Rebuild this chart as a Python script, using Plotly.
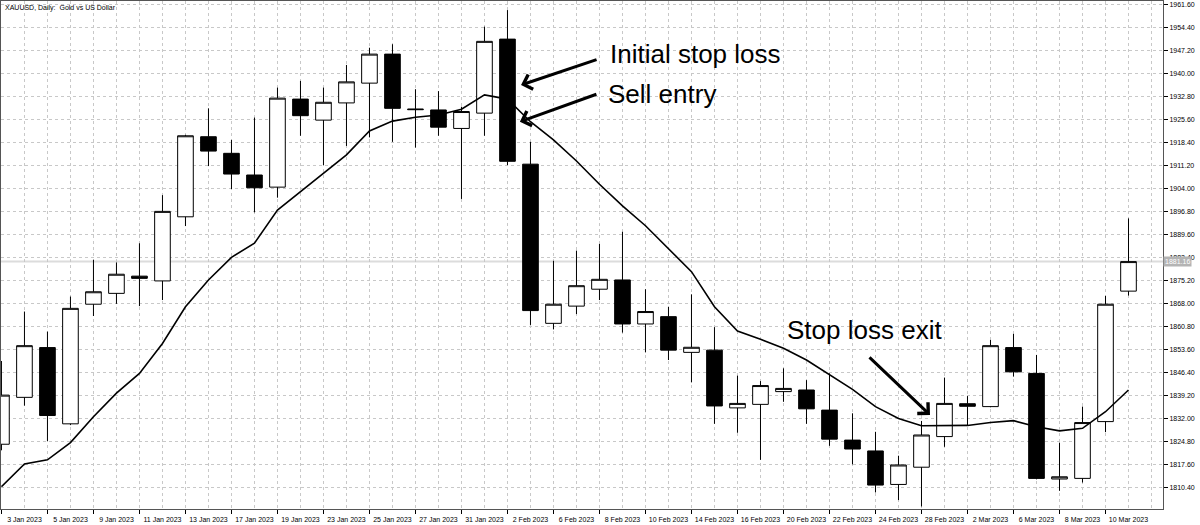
import plotly.graph_objects as go

dates = ["3 Jan 2023", "4 Jan 2023", "5 Jan 2023", "6 Jan 2023", "9 Jan 2023", "10 Jan 2023",
         "11 Jan 2023", "12 Jan 2023", "13 Jan 2023", "16 Jan 2023", "17 Jan 2023", "18 Jan 2023",
         "19 Jan 2023", "20 Jan 2023", "23 Jan 2023", "24 Jan 2023", "25 Jan 2023", "26 Jan 2023",
         "27 Jan 2023", "30 Jan 2023", "31 Jan 2023", "1 Feb 2023", "2 Feb 2023", "3 Feb 2023",
         "6 Feb 2023", "7 Feb 2023", "8 Feb 2023", "9 Feb 2023", "10 Feb 2023", "13 Feb 2023",
         "14 Feb 2023", "15 Feb 2023", "16 Feb 2023", "17 Feb 2023", "20 Feb 2023", "21 Feb 2023",
         "22 Feb 2023", "23 Feb 2023", "24 Feb 2023", "27 Feb 2023", "28 Feb 2023", "1 Mar 2023",
         "2 Mar 2023", "3 Mar 2023", "6 Mar 2023", "7 Mar 2023", "8 Mar 2023", "9 Mar 2023",
         "10 Mar 2023", "13 Mar 2023"]

open_ = [1823.9, 1838.6, 1854.2, 1830.3, 1867.8, 1871.2, 1876.6, 1875.1, 1895.2, 1920.3,
         1915.1, 1908.3, 1904.5, 1932.1, 1925.5, 1930.9, 1937.1, 1946.2, 1929.0, 1928.7,
         1922.9, 1927.7, 1950.9, 1911.7, 1861.8, 1867.2, 1872.5, 1875.4, 1861.6, 1863.9,
         1852.7, 1853.4, 1835.3, 1836.4, 1840.4, 1840.9, 1834.6, 1825.2, 1821.8, 1811.3,
         1816.7, 1826.3, 1836.6, 1835.7, 1854.2, 1846.1, 1813.0, 1813.2, 1831.0, 1871.9]
high = [1850.0, 1865.5, 1859.2, 1870.2, 1881.7, 1880.9, 1886.9, 1902.0, 1920.9, 1929.2,
        1919.3, 1926.3, 1935.7, 1937.8, 1935.7, 1942.8, 1948.2, 1949.3, 1935.2, 1934.6,
        1929.7, 1954.8, 1960.0, 1918.7, 1881.4, 1884.6, 1886.7, 1890.5, 1872.5, 1867.0,
        1870.9, 1860.6, 1845.4, 1843.7, 1847.7, 1844.0, 1846.1, 1833.6, 1827.8, 1820.3,
        1831.2, 1844.8, 1839.0, 1856.6, 1858.5, 1851.9, 1824.4, 1835.7, 1870.4, 1894.7]
low = [1822.0, 1836.0, 1824.9, 1829.9, 1864.1, 1867.9, 1867.2, 1869.1, 1892.3, 1911.1,
       1903.9, 1896.6, 1901.2, 1920.6, 1911.4, 1917.4, 1920.1, 1918.7, 1916.9, 1920.6,
       1900.8, 1920.6, 1911.4, 1861.3, 1859.9, 1864.7, 1869.1, 1858.9, 1852.7, 1850.3,
       1843.3, 1830.3, 1827.5, 1819.0, 1837.2, 1830.3, 1823.4, 1817.6, 1808.8, 1806.4,
       1804.4, 1823.1, 1829.9, 1835.5, 1845.1, 1812.9, 1809.3, 1811.9, 1827.7, 1870.5]
close = [1839.3, 1854.8, 1832.9, 1866.5, 1871.7, 1877.2, 1875.9, 1896.9, 1920.6, 1915.8,
         1908.6, 1904.3, 1932.4, 1926.9, 1931.1, 1937.5, 1946.2, 1929.2, 1928.8, 1923.3,
         1928.2, 1950.2, 1912.6, 1865.8, 1867.8, 1873.6, 1875.6, 1861.6, 1865.5, 1853.4,
         1854.3, 1835.9, 1836.7, 1842.3, 1841.4, 1835.0, 1825.5, 1822.4, 1811.1, 1817.4,
         1826.8, 1836.7, 1835.8, 1854.8, 1846.6, 1813.2, 1813.7, 1830.7, 1867.8, 1881.16]

moving_avg = [1810.6, 1817.7, 1819.0, 1824.4, 1832.5, 1839.9, 1846.1, 1855.5, 1867.0, 1875.4,
              1882.5, 1886.9, 1897.3, 1903.1, 1909.0, 1914.6, 1922.1, 1925.2, 1926.4, 1927.1,
              1928.9, 1933.4, 1932.1, 1925.0, 1919.3, 1912.7, 1905.4, 1898.6, 1892.4, 1885.3,
              1878.0, 1867.0, 1859.4, 1856.8, 1854.0, 1850.3, 1845.6, 1841.1, 1835.7, 1832.0,
              1829.7, 1829.7, 1829.8, 1830.7, 1831.3, 1829.4, 1828.1, 1828.9, 1834.1, 1840.9]

price_ticks = [1810.40, 1817.60, 1824.80, 1832.00, 1839.20, 1846.40, 1853.60, 1860.80,
               1868.00, 1875.20, 1882.40, 1889.60, 1896.80, 1904.00, 1911.20, 1918.40,
               1925.60, 1932.80, 1940.00, 1947.20, 1954.40, 1961.60]

last_price = 1881.16
chart_title = "XAUUSD, Daily:  Gold vs US Dollar"

x = list(range(len(dates)))
label_idx = x[::2]
label_txt = [dates[i] for i in label_idx]

fig = go.Figure()
fig.add_trace(go.Candlestick(
    x=x, open=open_, high=high, low=low, close=close,
    increasing=dict(line=dict(color="#000000", width=1), fillcolor="#ffffff"),
    decreasing=dict(line=dict(color="#000000", width=1), fillcolor="#000000"),
    whiskerwidth=0, showlegend=False, hoverinfo="skip"))
fig.add_trace(go.Scatter(x=x, y=moving_avg, mode="lines",
                         line=dict(color="#000000", width=1.6), showlegend=False,
                         hoverinfo="skip"))

fig.add_shape(type="line", xref="paper", x0=0, x1=1, yref="y", y0=last_price, y1=last_price,
              line=dict(color="#dcdcdc", width=2), layer="below")

font_small = dict(family="Liberation Sans, Arial", size=7, color="#000000")
big = dict(family="Liberation Sans, Arial", size=26, color="#000000")

annotations = [
    dict(text=chart_title, xref="paper", yref="paper", x=0.002, y=0.998, xanchor="left",
         yanchor="top", showarrow=False, font=font_small),
    dict(text=f"{last_price:.2f}", xref="paper", yref="y", x=1.0, y=last_price, xanchor="left",
         yanchor="middle", showarrow=False, bgcolor="#b4b4b4", borderpad=1,
         font=dict(family="Liberation Sans, Arial", size=7, color="#ffffff")),
    dict(text="Initial stop loss", x=26.37, y=1946.2, xanchor="left", yanchor="middle",
         showarrow=False, font=big),
    dict(text="Sell entry", x=26.28, y=1933.8, xanchor="left", yanchor="middle",
         showarrow=False, font=big),
    dict(text="Stop loss exit", x=34.07, y=1859.6, xanchor="left", yanchor="middle",
         showarrow=False, font=big),
    dict(text="", x=22.59, y=1936.5, ax=77, ay=-26, showarrow=True, arrowhead=4,
         arrowsize=1, arrowwidth=3, arrowcolor="#000000"),
    dict(text="", x=22.54, y=1925.0, ax=78, ay=-28, showarrow=True, arrowhead=4,
         arrowsize=1, arrowwidth=3, arrowcolor="#000000"),
    dict(text="", x=40.37, y=1833.1, ax=-62, ay=-59, showarrow=True, arrowhead=4,
         arrowsize=1, arrowwidth=3, arrowcolor="#000000"),
]

fig.update_layout(
    width=1200, height=525,
    margin=dict(l=1, r=37, t=1, b=16),
    paper_bgcolor="#ffffff", plot_bgcolor="#ffffff",
    boxgap=0.32, boxgroupgap=0,
    annotations=annotations,
    font=font_small,
)
fig.update_xaxes(
    range=[-0.02, 50.5], rangeslider=dict(visible=False),
    tickvals=label_idx, ticktext=label_txt, ticks="outside", ticklen=4,
    tickcolor="#000000", tickfont=font_small, ticklabelshift=23,
    showgrid=True, gridcolor="#c8c8c8", griddash="3px,3px", gridwidth=1,
    minor=dict(dtick=1, tick0=0, showgrid=True, gridcolor="#c8c8c8",
               griddash="3px,3px", ticks=""),
    showline=True, linecolor="#555555", linewidth=1, mirror=True, zeroline=False,
)
fig.update_yaxes(
    range=[1803.6, 1962.85], side="right",
    tickvals=price_ticks, tickformat=".2f", ticks="outside", ticklen=4,
    tickcolor="#000000", tickfont=font_small,
    showgrid=True, gridcolor="#c8c8c8", griddash="3px,3px", gridwidth=1,
    showline=True, linecolor="#555555", linewidth=1, mirror=True, zeroline=False,
)

fig.write_html("out.html", config={"displayModeBar": False},
               post_script="document.body.style.margin='0px';")
